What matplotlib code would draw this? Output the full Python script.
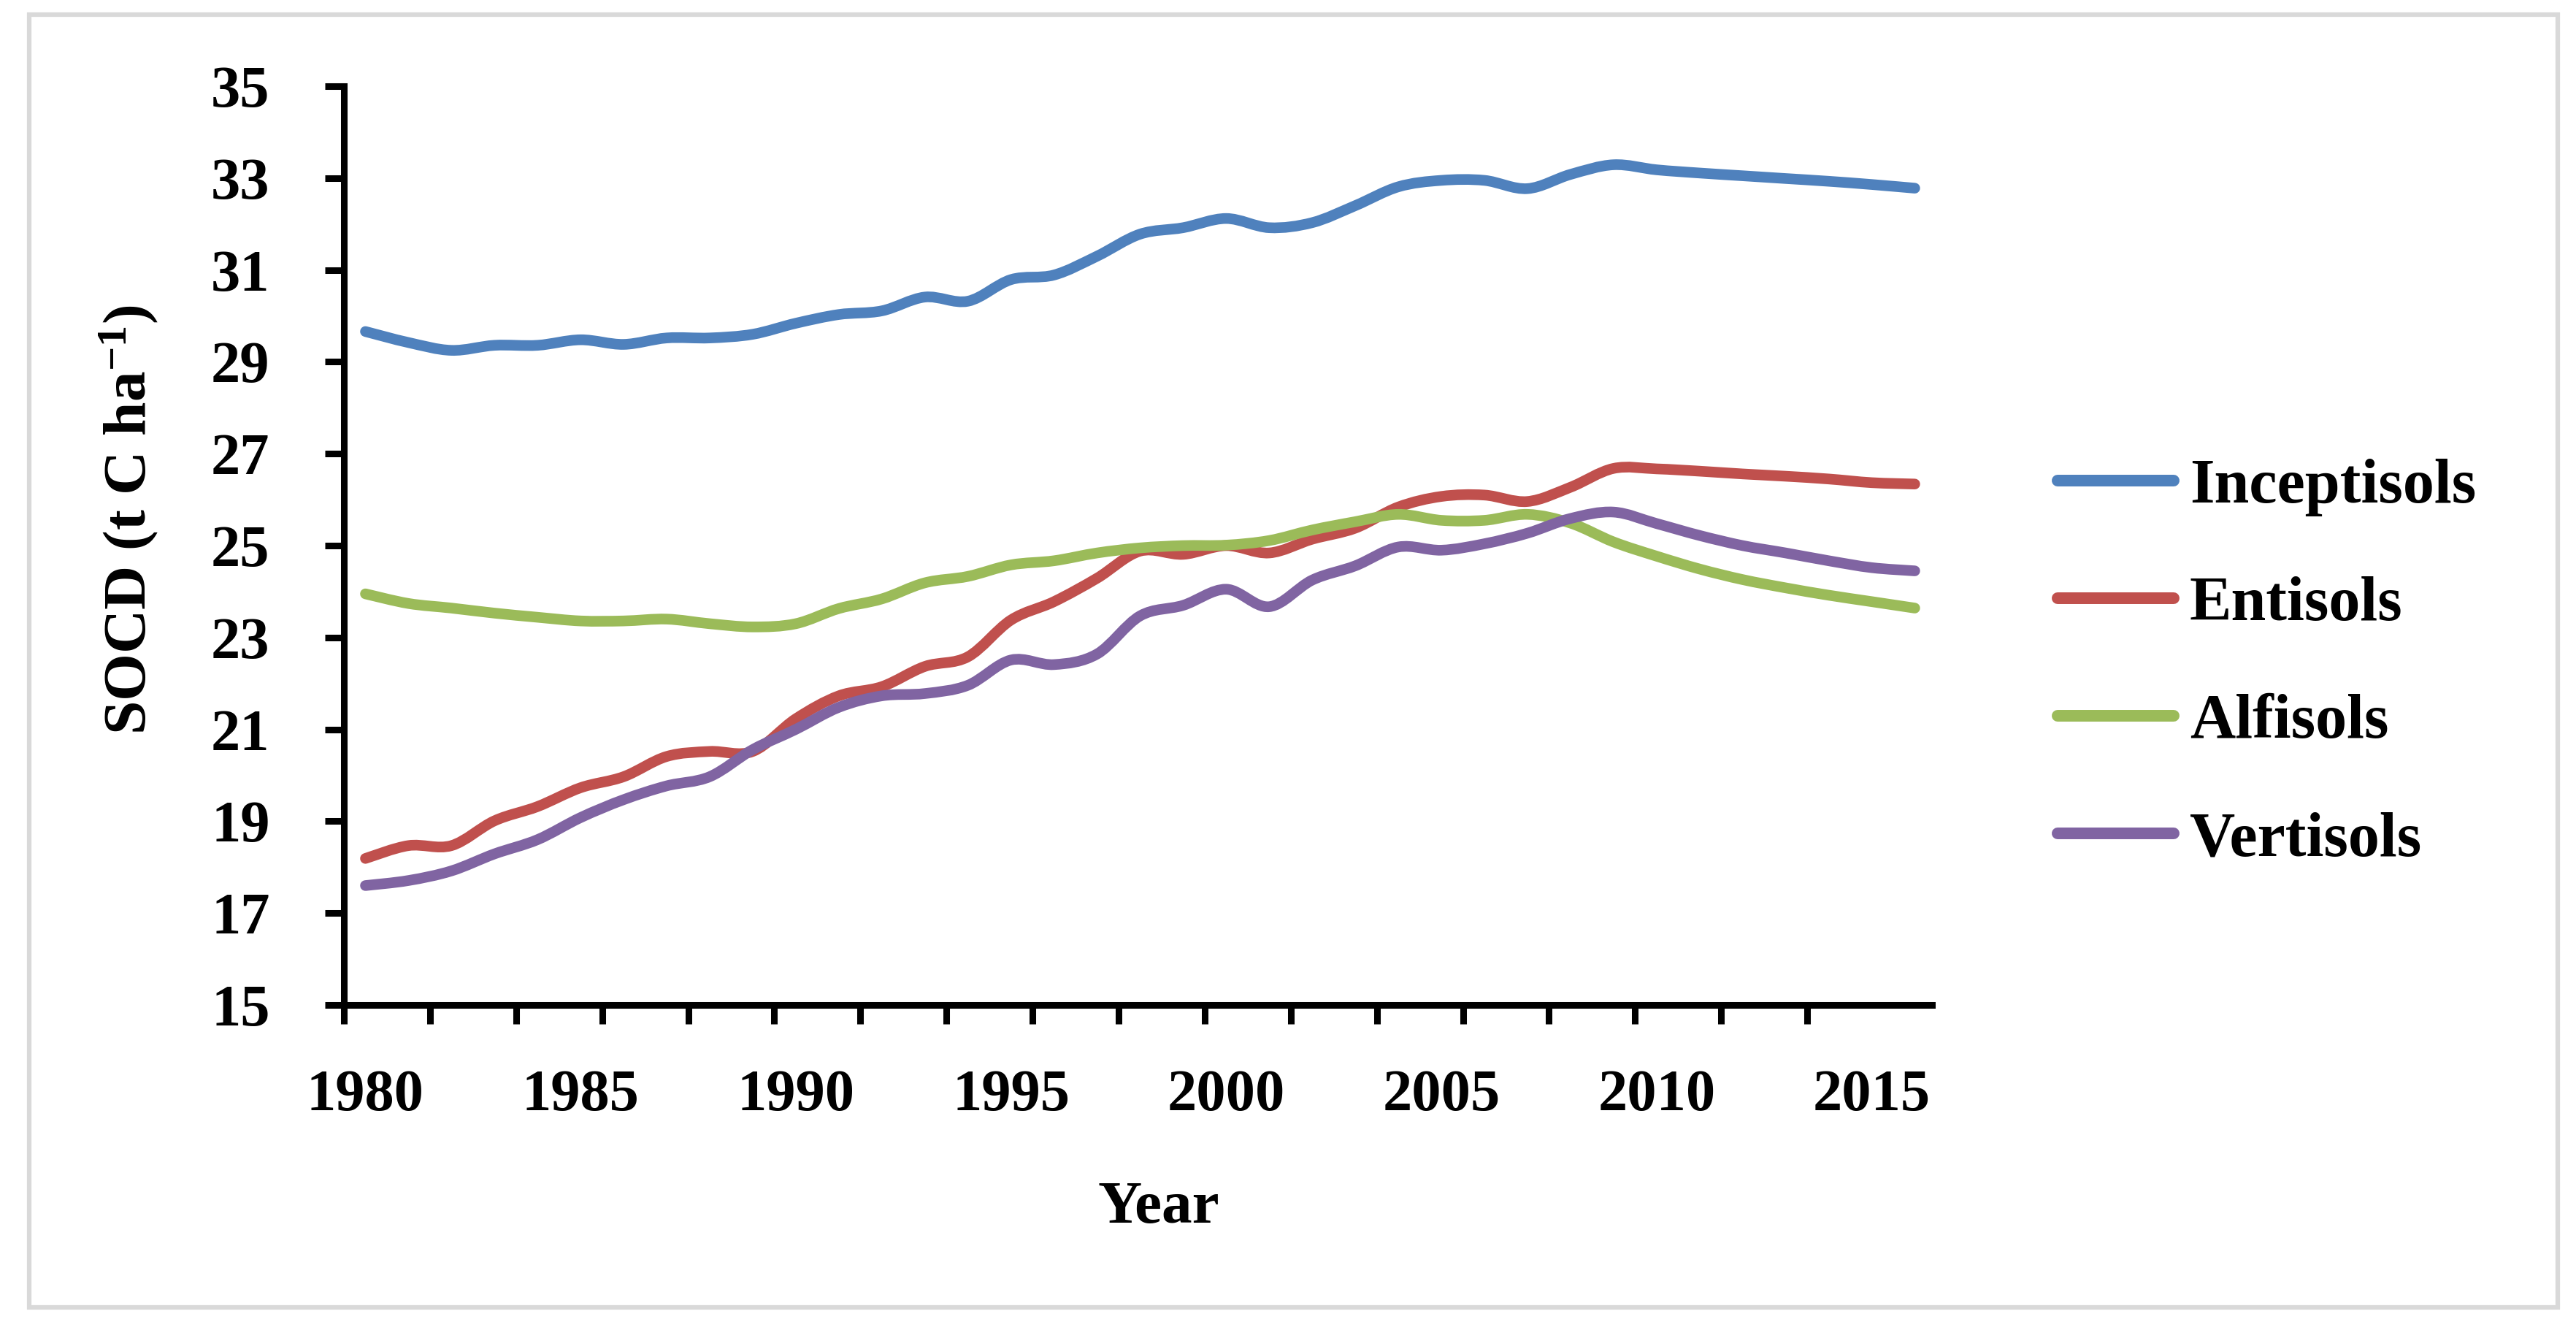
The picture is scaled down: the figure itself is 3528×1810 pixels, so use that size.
import numpy as np
import matplotlib
matplotlib.use("Agg")
import matplotlib.pyplot as plt
from matplotlib.path import Path
from matplotlib.patches import PathPatch, Rectangle
from matplotlib.lines import Line2D

# ---------------- data ----------------
years = list(range(1980, 2017))

inceptisols = [29.66, 29.42, 29.25, 29.36, 29.36, 29.48, 29.38, 29.52, 29.52, 29.60,
               29.84, 30.03, 30.11, 30.41, 30.32, 30.79, 30.89, 31.30, 31.78, 31.92,
               32.12, 31.92, 32.03, 32.40, 32.81, 32.95, 32.95, 32.77, 33.08, 33.29,
               33.18, 33.11, 33.05, 32.99, 32.93, 32.86, 32.78]

entisols = [18.19, 18.47, 18.47, 19.01, 19.32, 19.73, 19.97, 20.41, 20.52, 20.52,
            21.23, 21.73, 21.93, 22.37, 22.58, 23.38, 23.78, 24.29, 24.88, 24.81,
            25.00, 24.84, 25.14, 25.38, 25.84, 26.07, 26.10, 25.96, 26.27, 26.68,
            26.67, 26.62, 26.56, 26.51, 26.45, 26.37, 26.34]

alfisols = [23.95, 23.74, 23.64, 23.53, 23.44, 23.36, 23.36, 23.40, 23.30, 23.23,
            23.30, 23.63, 23.84, 24.19, 24.33, 24.58, 24.67, 24.84, 24.95, 25.00,
            25.01, 25.11, 25.34, 25.52, 25.68, 25.55, 25.55, 25.68, 25.49, 25.08,
            24.77, 24.49, 24.26, 24.08, 23.92, 23.78, 23.64]

vertisols = [17.60, 17.71, 17.92, 18.29, 18.60, 19.08, 19.47, 19.77, 19.97, 20.56,
             21.00, 21.48, 21.73, 21.78, 21.96, 22.51, 22.41, 22.64, 23.47, 23.70,
             24.05, 23.67, 24.25, 24.56, 24.97, 24.90, 25.04, 25.27, 25.59, 25.73,
             25.48, 25.22, 25.00, 24.84, 24.67, 24.52, 24.45]

series_names = ["Inceptisols", "Entisols", "Alfisols", "Vertisols"]
series_values = [inceptisols, entisols, alfisols, vertisols]
series_colors = ["#4F81BD", "#C0504D", "#9BBB59", "#8064A2"]

y_ticks = list(range(15, 36, 2))
x_label_years = [1980, 1985, 1990, 1995, 2000, 2005, 2010, 2015]

# ---------------- style ----------------
plt.rcParams["font.family"] = ["Liberation Serif", "DejaVu Serif"]
plt.rcParams["font.weight"] = "bold"
plt.rcParams["mathtext.fontset"] = "custom"
plt.rcParams["mathtext.rm"] = "Liberation Serif:bold"
plt.rcParams["mathtext.it"] = "Liberation Serif:bold"
plt.rcParams["mathtext.bf"] = "Liberation Serif:bold"
plt.rcParams["mathtext.default"] = "rm"

W, H = 3528, 1810
fig = plt.figure(figsize=(W / 100, H / 100), dpi=100)
fig.patch.set_facecolor("white")

# outer light-grey chart border
fig.add_artist(Rectangle((40 / W, (H - 1790) / H), (3503 - 40) / W, (1790 - 20) / H,
                         transform=fig.transFigure, fill=False,
                         edgecolor="#D9D9D9", linewidth=4.5))

ax_left, ax_right = 471, 2646
ax_top, ax_bottom = 118, 1376
ax = fig.add_axes([ax_left / W, (H - ax_bottom) / H,
                   (ax_right - ax_left) / W, (ax_bottom - ax_top) / H])


def smooth_path(x, y):
    pts = np.column_stack([x, y]).astype(float)
    n = len(pts)
    verts = [pts[0]]
    codes = [Path.MOVETO]
    for i in range(n - 1):
        p0 = pts[i - 1] if i > 0 else pts[i]
        p1 = pts[i]
        p2 = pts[i + 1]
        p3 = pts[i + 2] if i + 2 < n else pts[i + 1]
        c1 = p1 + (p2 - p0) / 6.0
        c2 = p2 - (p3 - p1) / 6.0
        verts += [c1, c2, p2]
        codes += [Path.CURVE4] * 3
    return Path(np.array(verts), codes)


LW = 10.5
handles = []
for name, vals, col in zip(series_names, series_values, series_colors):
    patch = PathPatch(smooth_path(years, vals), facecolor="none", edgecolor=col,
                      linewidth=LW, capstyle="round", joinstyle="round", zorder=3)
    ax.add_patch(patch)
    handles.append(Line2D([0], [0], color=col, linewidth=LW + 1,
                          solid_capstyle="round", label=name))

ax.set_xlim(years[0] - 0.5, years[-1] + 0.4)
ax.set_ylim(15, 35)

for s in ["top", "right"]:
    ax.spines[s].set_visible(False)
for s in ["left", "bottom"]:
    ax.spines[s].set_linewidth(6.5)
    ax.spines[s].set_color("black")
    ax.spines[s].set_capstyle("projecting")

ax.set_yticks(y_ticks)
ax.set_yticklabels([str(v) for v in y_ticks])
ax.tick_params(axis="y", which="major", direction="out", length=19, width=6.5,
               labelsize=58, pad=54, colors="black")

# x: tick marks at category boundaries every 2 categories, labels every 5 years
ax.set_xticks([years[0] - 0.5 + 2 * k for k in range(18)])
ax.set_xticklabels([])
ax.set_xticks(x_label_years, minor=True)
ax.set_xticklabels([str(v) for v in x_label_years], minor=True)
ax.tick_params(axis="x", which="major", direction="out", length=19, width=6.5)
ax.tick_params(axis="x", which="minor", length=0, labelsize=58, pad=63)

for lbl in ax.get_yticklabels() + ax.get_xticklabels(minor=True):
    lbl.set_fontweight("bold")

fig.text(1587 / W, (H - 1674) / H, "Year", ha="center", va="baseline",
         fontsize=60, fontweight="bold")
fig.text(177 / W, (H - 711) / H, "SOCD (t C ha$^{-1}$)", rotation=90,
         ha="center", va="center", fontsize=60, fontweight="bold")

leg = ax.legend(handles=handles, loc="upper left",
                bbox_to_anchor=(2818 / W, (H - 628) / H),
                bbox_transform=fig.transFigure, frameon=False,
                prop={"family": "Liberation Serif", "weight": "bold", "size": 62},
                handlelength=1.85, handletextpad=0.25, labelspacing=0.95,
                borderpad=0, borderaxespad=0)

fig.savefig("out.png", dpi=100, facecolor="white")
